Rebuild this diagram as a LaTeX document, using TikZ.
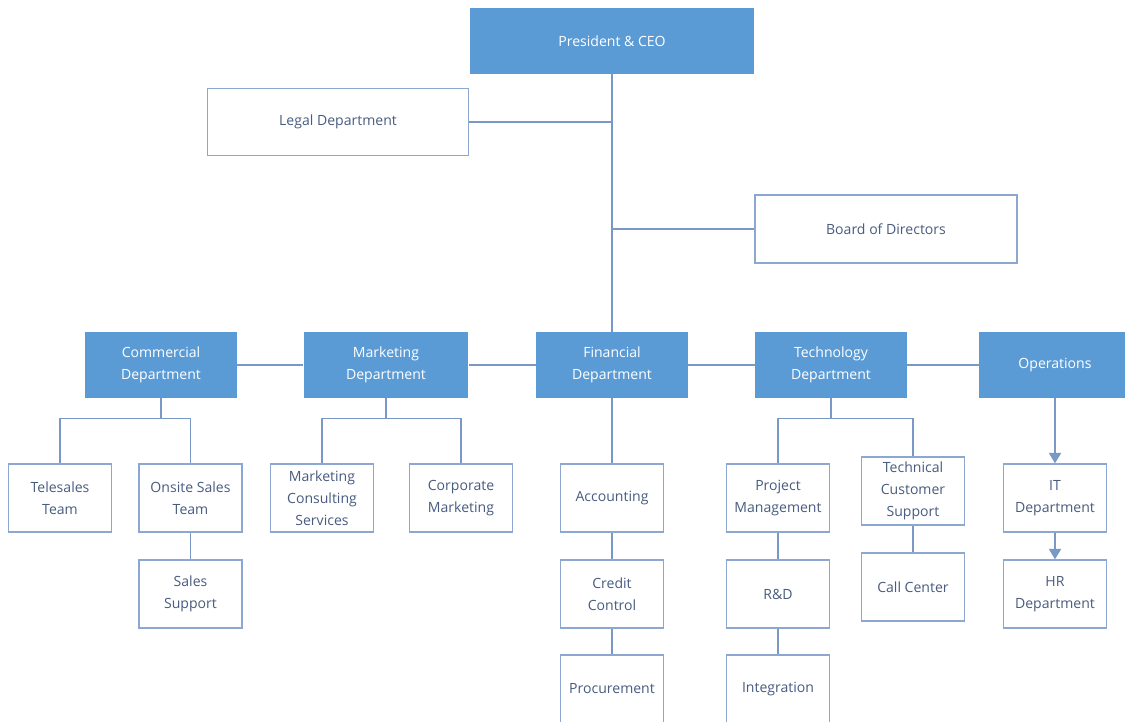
\documentclass[tikz,border=0pt]{standalone}
\usepackage{fontspec}
\setmainfont{Open Sans}
\usetikzlibrary{arrows.meta}

\definecolor{deptblue}{RGB}{91,155,213}
\definecolor{unitline}{RGB}{140,168,208}
\definecolor{unittext}{RGB}{72,92,128}
\definecolor{linkline}{RGB}{122,152,198}

\tikzset{
    dept/.style={rectangle, fill=deptblue, text=white, align=center,
        minimum width=3.04cm, minimum height=1.32cm, inner sep=1pt},
    unit/.style={rectangle, draw=unitline, line width=0.8pt, fill=white,
        text=unittext, align=center, minimum width=2.06cm,
        minimum height=1.36cm, inner sep=1pt},
    link/.style={draw=linkline, line width=0.8pt},
    flow/.style={link, -{Triangle[width=7pt,length=6pt]}}
}

\begin{document}
\begin{tikzpicture}[x=0.02cm, y=-0.02cm,
        font=\fontsize{8}{12.5}\selectfont]
        \useasboundingbox (0,0) rectangle (1125,721);

        % Leitung
        \node[dept, minimum width=5.68cm] (CEO) at (612,41) {President \& CEO};
        \node[unit, minimum width=5.22cm, minimum height=1.34cm] (LEG) at (338,122) {Legal Department};
        \node[unit, minimum width=5.24cm] (BRD) at (886,229) {Board of Directors};

        % Abteilungen
        \node[dept] (COM) at (161,365) {Commercial\\Department};
        \node[dept, minimum width=3.3cm] (MKT) at (386,365) {Marketing\\Department};
        \node[dept] (FIN) at (612,365) {Financial\\Department};
        \node[dept] (TEC) at (831,365) {Technology\\Department};
        \node[dept] (OPS) at (1055,365) {Operations};

        % Einheiten
        \node[unit] (TEL) at (60,498) {Telesales\\Team};
        \node[unit] (ONS) at (190.5,498) {Onsite Sales\\Team};
        \node[unit] (SSU) at (190.5,594) {Sales\\Support};
        \node[unit] (MCS) at (322,498) {Marketing\\Consulting\\Services};
        \node[unit] (CMK) at (461,498) {Corporate\\Marketing};
        \node[unit] (ACC) at (612,498) {Accounting};
        \node[unit] (CRC) at (612,594) {Credit\\Control};
        \node[unit] (PRC) at (612,689) {Procurement};
        \node[unit] (PRJ) at (778,498) {Project\\Management};
        \node[unit] (RND) at (778,594) {R\&D};
        \node[unit] (INT) at (778,689) {Integration};
        \node[unit] (TCS) at (913,491) {Technical\\Customer\\Support};
        \node[unit] (CAL) at (913,587) {Call Center};
        \node[unit] (ITD) at (1055,498) {IT\\Department};
        \node[unit] (HRD) at (1055,594) {HR\\Department};

        % Verbindungen
        \draw[link] (CEO) -- (FIN);
        \draw[link] (LEG.east) -- (LEG.east -| CEO.south);
        \draw[link] (BRD.west) -- (BRD.west -| CEO.south);
        \draw[link] (COM) -- (MKT);
        \draw[link] (MKT) -- (FIN);
        \draw[link] (FIN) -- (TEC);
        \draw[link] (TEC) -- (OPS);

        \draw[link] (COM.south) -- +(0,20) -| (TEL.north);
        \draw[link] (COM.south) -- +(0,20) -| (ONS.north);
        \draw[link] (ONS) -- (SSU);
        \draw[link] (MKT.south) -- +(0,20) -| (MCS.north);
        \draw[link] (MKT.south) -- +(0,20) -| (CMK.north);
        \draw[link] (FIN) -- (ACC);
        \draw[link] (ACC) -- (CRC);
        \draw[link] (CRC) -- (PRC);
        \draw[link] (TEC.south) -- +(0,20) -| (PRJ.north);
        \draw[link] (TEC.south) -- +(0,20) -| (TCS.north);
        \draw[link] (PRJ) -- (RND);
        \draw[link] (RND) -- (INT);
        \draw[link] (TCS) -- (CAL);
        \draw[flow] (OPS) -- (ITD);
        \draw[flow] (ITD) -- (HRD);
    \end{tikzpicture}
\end{document}
